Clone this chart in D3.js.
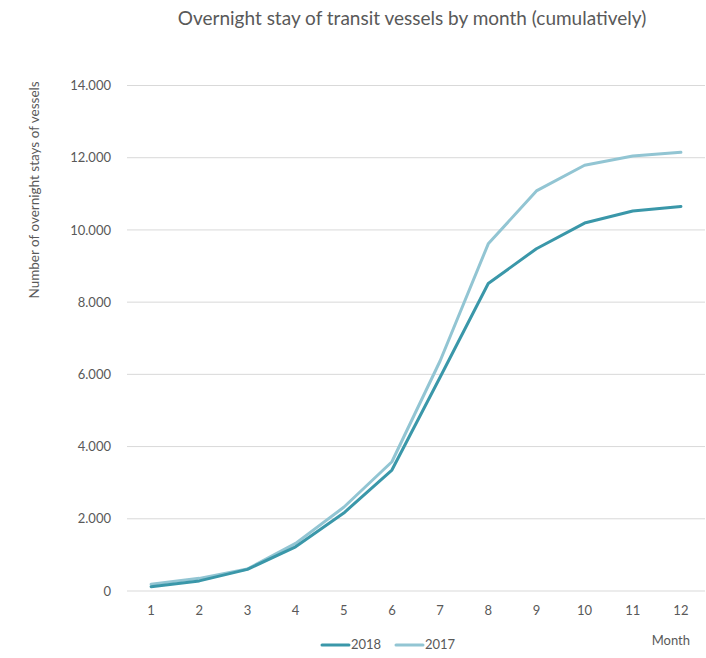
<!DOCTYPE html>
<html>
<head>
<meta charset="utf-8">
<script src="https://cdn.jsdelivr.net/npm/d3@7"></script>
<style>
  body { margin: 0; background: #fff; }
  svg { display: block; font-family: Lato, "Open Sans", sans-serif; }
</style>
</head>
<body>
<svg id="chart" width="706" height="658"></svg>
<script>
// Cumulative overnight stays of transit vessels, per month
const months = [1, 2, 3, 4, 5, 6, 7, 8, 9, 10, 11, 12];
const values2018 = [120, 280, 600, 1225, 2160, 3350, 5920, 8515, 9480, 10190, 10525, 10650];
const values2017 = [185, 350, 610, 1320, 2320, 3580, 6370, 9615, 11080, 11790, 12045, 12150];
const yTicks = [0, 2000, 4000, 6000, 8000, 10000, 12000, 14000];

const series = [
  { name: "2018", values: values2018, color: "#3a97a9" },
  { name: "2017", values: values2017, color: "#92c5d3" }
];

const svg = d3.select("#chart");
const margin = { left: 127, right: 1, top: 85.5, bottom: 67 };
const W = 706, H = 658;

const x = d3.scaleBand().domain(months).range([margin.left, W - margin.right]);
const y = d3.scaleLinear().domain([0, 14000]).range([H - margin.bottom, margin.top]);
const fmt = v => v === 0 ? "0" : d3.format(",")(v).replace(/,/g, ".");
const textColor = "#595959";

// gridlines
svg.append("g")
  .selectAll("line")
  .data(yTicks)
  .join("line")
  .attr("x1", margin.left).attr("x2", W - margin.right)
  .attr("y1", d => y(d)).attr("y2", d => y(d))
  .attr("stroke", "#d9d9d9").attr("stroke-width", 1);

// y axis labels
const yAxis = svg.append("g")
  .attr("transform", `translate(${margin.left - 13},0)`)
  .call(d3.axisLeft(y).tickValues(yTicks).tickFormat(fmt).tickSize(0));
yAxis.select(".domain").remove();
yAxis.selectAll("text").attr("fill", textColor).style("font-size", "13px")
  .style("font-family", "Lato, 'Open Sans', sans-serif");

// x axis labels
const xAxis = svg.append("g")
  .attr("transform", `translate(0,${y(0) + 12})`)
  .call(d3.axisBottom(x).tickSize(0));
xAxis.select(".domain").remove();
xAxis.selectAll("text").attr("fill", textColor).style("font-size", "13px")
  .style("font-family", "Lato, 'Open Sans', sans-serif");

// lines
const line = d3.line()
  .x((d, i) => x(months[i]) + x.bandwidth() / 2)
  .y(d => y(d));

svg.append("g")
  .selectAll("path")
  .data(series.slice().reverse())
  .join("path")
  .attr("d", d => line(d.values))
  .attr("fill", "none")
  .attr("stroke", d => d.color)
  .attr("stroke-width", 3)
  .attr("stroke-linejoin", "round")
  .attr("stroke-linecap", "round");

// title
svg.append("text")
  .attr("x", 412).attr("y", 25)
  .attr("text-anchor", "middle")
  .attr("fill", textColor)
  .style("font-size", "19px")
  .text("Overnight stay of transit vessels by month (cumulatively)");

// y axis title
svg.append("text")
  .attr("transform", "translate(39,190) rotate(-90)")
  .attr("text-anchor", "middle")
  .attr("fill", textColor)
  .style("font-size", "13.5px")
  .text("Number of overnight stays of vessels");

// x axis title
svg.append("text")
  .attr("x", 690).attr("y", 645)
  .attr("text-anchor", "end")
  .attr("fill", textColor)
  .style("font-size", "13px")
  .text("Month");

// legend
const legend = svg.append("g").attr("transform", "translate(322,649)");
const item = legend.selectAll("g")
  .data(series)
  .join("g")
  .attr("transform", (d, i) => `translate(${i * 74},0)`);
item.append("line")
  .attr("x1", 0).attr("x2", 27).attr("y1", -4).attr("y2", -4)
  .attr("stroke", d => d.color).attr("stroke-width", 3).attr("stroke-linecap", "round");
item.append("text")
  .attr("x", 29).attr("y", 0)
  .attr("fill", textColor)
  .style("font-size", "13px")
  .text(d => d.name);
</script>
</body>
</html>
